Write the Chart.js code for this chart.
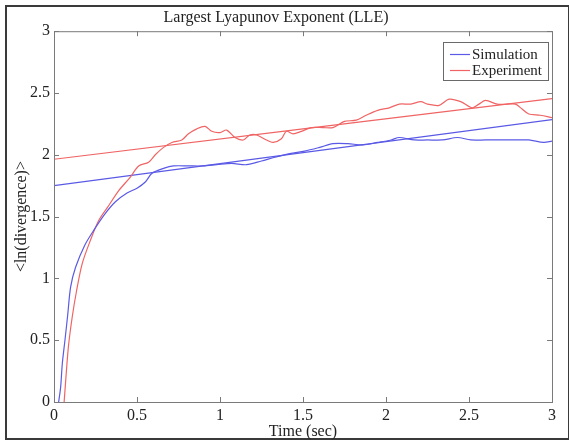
<!DOCTYPE html>
<html>
<head>
<meta charset="utf-8">
<script src="https://cdn.jsdelivr.net/npm/chart.js@4.4.1/dist/chart.umd.min.js"></script>
<style>
  html, body { margin: 0; padding: 0; background: #fff; }
  #wrap { width: 569px; height: 440px; position: relative; }
</style>
</head>
<body>
<div id="wrap"><canvas id="lle" width="569" height="440"></canvas></div>
<script>
// Data
const simTime = [0.028, 0.04, 0.05, 0.066, 0.083, 0.1, 0.13, 0.186, 0.24, 0.306, 0.37, 0.44, 0.5, 0.55, 0.59, 0.66, 0.72, 0.81, 0.9, 0.98, 1.07, 1.16, 1.25, 1.33, 1.42, 1.51, 1.6, 1.68, 1.77, 1.86, 1.95, 2.03, 2.08, 2.17, 2.25, 2.34, 2.43, 2.51, 2.6, 2.69, 2.78, 2.86, 2.95, 3.0];
const simValue = [0, 0.12, 0.31, 0.5, 0.71, 0.93, 1.09, 1.27, 1.39, 1.52, 1.62, 1.69, 1.73, 1.78, 1.85, 1.89, 1.91, 1.91, 1.91, 1.92, 1.93, 1.92, 1.95, 1.98, 2.01, 2.03, 2.06, 2.09, 2.09, 2.08, 2.10, 2.12, 2.14, 2.12, 2.12, 2.12, 2.14, 2.12, 2.12, 2.12, 2.12, 2.12, 2.10, 2.11];

const expTime = [0.061, 0.072, 0.087, 0.11, 0.136, 0.17, 0.22, 0.27, 0.33, 0.39, 0.46, 0.51, 0.57, 0.61, 0.66, 0.71, 0.77, 0.81, 0.86, 0.91, 0.95, 1.0, 1.04, 1.09, 1.14, 1.18, 1.22, 1.28, 1.32, 1.37, 1.40, 1.44, 1.49, 1.55, 1.62, 1.68, 1.75, 1.82, 1.88, 1.95, 2.02, 2.08, 2.15, 2.21, 2.25, 2.32, 2.38, 2.45, 2.52, 2.56, 2.60, 2.67, 2.73, 2.78, 2.82, 2.86, 2.93, 3.0];
const expValue = [0, 0.2, 0.45, 0.69, 0.9, 1.12, 1.31, 1.47, 1.59, 1.71, 1.82, 1.91, 1.94, 2.0, 2.06, 2.10, 2.12, 2.17, 2.21, 2.23, 2.19, 2.18, 2.2, 2.14, 2.12, 2.16, 2.16, 2.12, 2.10, 2.13, 2.19, 2.17, 2.19, 2.22, 2.22, 2.22, 2.27, 2.28, 2.32, 2.36, 2.38, 2.41, 2.41, 2.43, 2.41, 2.40, 2.45, 2.43, 2.38, 2.41, 2.44, 2.41, 2.41, 2.41, 2.37, 2.33, 2.32, 2.30];

// linear fits (end points)
const fitTime = [0, 3];
const simFit = [1.75, 2.285];
const expFit = [1.964, 2.455];

const xTicks = [0, 0.5, 1, 1.5, 2, 2.5, 3];
const yTicks = [0, 0.5, 1, 1.5, 2, 2.5, 3];

const seriesNames = ['Simulation', 'Experiment'];

const BLUE = '#5a5ae6';
const RED = '#f06464';
const SERIF = '"Liberation Serif", "DejaVu Serif", serif';

function toPoints(xs, ys) {
    return xs.map((x, i) => ({ x: x, y: ys[i] }));
}

// frame, inward ticks and legend like the matlab figure
const matlabBox = {
    id: 'matlabBox',
    beforeDraw(chart) {
        const ctx = chart.ctx;
        ctx.save();
        ctx.fillStyle = '#fff';
        ctx.fillRect(0, 0, chart.width, chart.height);
        ctx.strokeStyle = '#3a3a3a';
        ctx.lineWidth = 2;
        ctx.strokeRect(6, 6, chart.width - 6, chart.height - 7);
        ctx.restore();
    },
    afterDraw(chart) {
        const ctx = chart.ctx;
        const a = chart.chartArea;
        const xs = chart.scales.x, ys = chart.scales.y;
        ctx.save();
        ctx.strokeStyle = '#7a7a7a';
        ctx.lineWidth = 1;
        ctx.strokeRect(a.left + 0.5, a.top + 0.5, a.right - a.left, a.bottom - a.top);
        ctx.beginPath();
        xTicks.forEach(t => {
            const px = Math.round(xs.getPixelForValue(t)) + 0.5;
            ctx.moveTo(px, a.bottom); ctx.lineTo(px, a.bottom - 5);
            ctx.moveTo(px, a.top); ctx.lineTo(px, a.top + 5);
        });
        yTicks.forEach(t => {
            const py = Math.round(ys.getPixelForValue(t)) + 0.5;
            ctx.moveTo(a.left, py); ctx.lineTo(a.left + 5, py);
            ctx.moveTo(a.right, py); ctx.lineTo(a.right - 5, py);
        });
        ctx.stroke();

        // legend box
        const lx = 443, ly = 42, lw = 105, lh = 38;
        ctx.fillStyle = '#fff';
        ctx.fillRect(lx, ly, lw, lh);
        ctx.strokeStyle = '#6a6a6a';
        ctx.strokeRect(lx + 0.5, ly + 0.5, lw, lh);
        const colors = [BLUE, RED];
        ctx.font = '15px ' + SERIF;
        ctx.textBaseline = 'middle';
        ctx.fillStyle = '#222';
        seriesNames.forEach((name, i) => {
            const y = ly + 12 + i * 16;
            ctx.strokeStyle = colors[i];
            ctx.lineWidth = 1.2;
            ctx.beginPath();
            ctx.moveTo(lx + 7, y + 0.5); ctx.lineTo(lx + 27, y + 0.5);
            ctx.stroke();
            ctx.fillText(name, lx + 29, y + 1);
        });
        ctx.restore();
    }
};

const lineOpts = { showLine: true, pointRadius: 0, borderWidth: 1.2, fill: false, tension: 0.3 };
const tickFont = { family: SERIF, size: 16 };

new Chart(document.getElementById('lle'), {
    type: 'scatter',
    data: {
        datasets: [
            Object.assign({ label: seriesNames[0], data: toPoints(simTime, simValue), borderColor: BLUE }, lineOpts),
            Object.assign({ label: seriesNames[1], data: toPoints(expTime, expValue), borderColor: RED }, lineOpts),
            Object.assign({ label: 'Simulation fit', data: toPoints(fitTime, simFit), borderColor: BLUE }, lineOpts),
            Object.assign({ label: 'Experiment fit', data: toPoints(fitTime, expFit), borderColor: RED }, lineOpts)
        ]
    },
    options: {
        responsive: false,
        animation: false,
        layout: { padding: { left: 0, right: 17, top: 0, bottom: 0 } },
        plugins: {
            legend: { display: false },
            tooltip: { enabled: false },
            title: {
                display: true,
                text: 'Largest Lyapunov Exponent (LLE)',
                color: '#222',
                font: { family: SERIF, size: 16, weight: 'normal' },
                padding: { top: 8, bottom: 4 }
            }
        },
        scales: {
            x: {
                type: 'linear',
                min: 0, max: 3,
                afterBuildTicks: s => { s.ticks = xTicks.map(v => ({ value: v })); },
                afterFit: s => { s.height = 38; },
                grid: { display: false, drawTicks: false },
                border: { display: false },
                ticks: { color: '#222', font: tickFont, padding: 4, callback: v => String(v) },
                title: { display: true, text: 'Time (sec)', color: '#222', font: tickFont, padding: { top: 0, bottom: -1 } }
            },
            y: {
                type: 'linear',
                min: 0, max: 3,
                afterBuildTicks: s => { s.ticks = yTicks.map(v => ({ value: v })); },
                afterFit: s => { s.width = 54; },
                grid: { display: false, drawTicks: false },
                border: { display: false },
                ticks: { color: '#222', font: tickFont, padding: 4, callback: v => String(v) },
                title: { display: true, text: '<ln(divergence)>', color: '#222', font: tickFont, padding: { top: 12, bottom: 0 } }
            }
        }
    },
    plugins: [matlabBox]
});
</script>
</body>
</html>
